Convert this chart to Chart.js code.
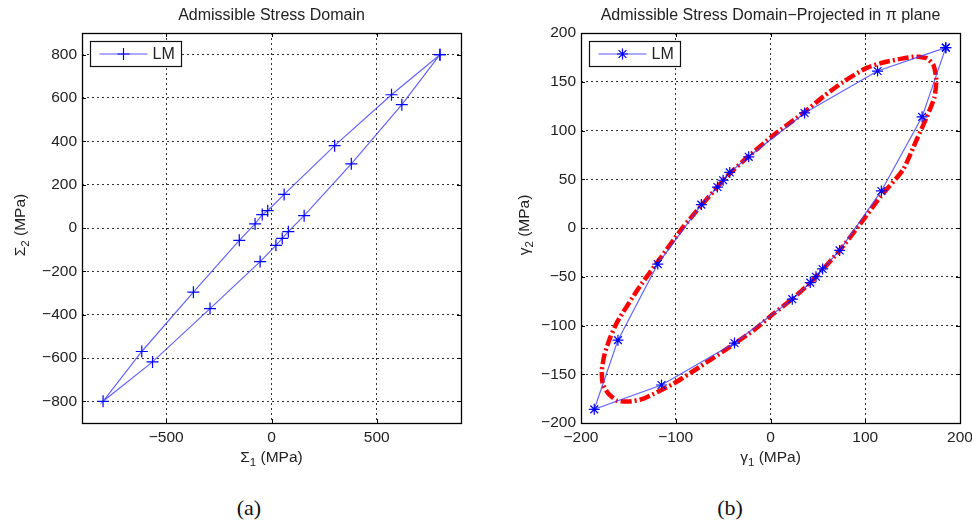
<!DOCTYPE html>
<html>
<head>
<meta charset="utf-8">
<title>Admissible Stress Domain</title>
<script src="https://cdn.jsdelivr.net/npm/chart.js@4.4.1/dist/chart.umd.min.js"></script>
<style>
  body { margin: 0; background: #fff; width: 972px; height: 520px; position: relative; overflow: hidden; }
  canvas { position: absolute; top: 0; }
  #chartA { left: 0; }
  #chartB { left: 486px; }
  .cap { position: absolute; top: 495px; width: 60px; line-height: 26px; text-align: center;
         font-family: "Liberation Serif", "Times New Roman", serif; font-size: 22px; color: #111; }
</style>
</head>
<body>
<canvas id="chartA" width="486" height="475"></canvas>
<canvas id="chartB" width="486" height="475"></canvas>
<div class="cap" style="left:219px">(a)</div>
<div class="cap" style="left:700px">(b)</div>
<script>
// (a) Σ1 - Σ2 plane, LM points, closed loop starting at (800, 800)
const sigma1 = [800, 570, 300, 60, -18, -44, -78, -153, -371, -616, -800,
                -565, -292, -54, 21, 51, 80, 155, 379, 619, 800];
const sigma2 = [800, 615, 380, 155, 80, 62, 19, -57, -296, -570, -800,
                -618, -372, -155, -80, -48, -17, 57, 296, 569, 800];
const sigma1Ticks = [-500, 0, 500];
const sigma2Ticks = [-800, -600, -400, -200, 0, 200, 400, 600, 800];

// (b) projection in the pi plane, LM points
const gamma1 = [185, 113, 36, -23, -43, -50, -56, -73, -119, -161, -186,
                -115, -38, 23, 42, 48, 55, 73, 117, 160, 185];
const gamma2 = [185, 161, 118, 73, 57, 49, 42, 24, -37, -115, -186,
                -161, -118, -73, -56, -50, -42, -23, 38, 114, 185];
// red dash-dot reference curve
const curveG1 = [154, 165, 172, 175, 173, 165, 154, 140, 116, 93, 73, 45, 24, 3, -18, -43, -74, -103,
                 -134, -150, -162, -171, -177, -178, -175, -169, -161, -138, -117, -93, -74, -46, -25, 3,
                 36, 56, 77, 101, 120, 140, 154];
const curveG2 = [176, 174, 167, 152, 134, 114, 90, 60, 32, 2, -23, -53, -72, -88, -105, -122, -142, -160,
                 -175, -178, -177, -170, -160, -146, -129, -112, -95, -60, -32, 0, 22, 53, 72, 95,
                 119, 135, 150, 164, 170, 174, 176];
const gamma1Ticks = [-200, -100, 0, 100, 200];
const gamma2Ticks = [-200, -150, -100, -50, 0, 50, 100, 150, 200];

const FONT = '"Liberation Sans", Arial, Helvetica, sans-serif';
const TEXT = '#222';

function pts(xs, ys) {
    return xs.map((x, i) => ({ x: x, y: ys[i] }));
}

function fmt(v) {
    return String(v).replace('-', '\u2212');
}

function drawMarker(ctx, kind, cx, cy, r) {
    ctx.beginPath();
    ctx.moveTo(cx - r, cy); ctx.lineTo(cx + r, cy);
    ctx.moveTo(cx, cy - r); ctx.lineTo(cx, cy + r);
    if (kind === 'star') {
        const d = r * 0.707;
        ctx.moveTo(cx - d, cy - d); ctx.lineTo(cx + d, cy + d);
        ctx.moveTo(cx - d, cy + d); ctx.lineTo(cx + d, cy - d);
    }
    ctx.stroke();
}

// axis label with a real subscript: [symbol, subscript, rest]
function drawSubLabel(ctx, parts, cx, cy, rot) {
    const big = '15.5px ' + FONT, small = '11.5px ' + FONT;
    ctx.font = big;
    const w0 = ctx.measureText(parts[0]).width;
    const w2 = ctx.measureText(parts[2]).width;
    ctx.font = small;
    const w1 = ctx.measureText(parts[1]).width;
    ctx.save();
    ctx.translate(cx, cy);
    ctx.rotate(rot);
    ctx.fillStyle = TEXT;
    ctx.textBaseline = 'middle';
    ctx.textAlign = 'left';
    let x = -(w0 + w1 + w2) / 2;
    ctx.font = big; ctx.fillText(parts[0], x, 0); x += w0;
    ctx.font = small; ctx.fillText(parts[1], x, 5); x += w1;
    ctx.font = big; ctx.fillText(parts[2], x, 0);
    ctx.restore();
}

// box, inward tick marks, axis labels and the in-plot legend (matlab style)
const framePlugin = {
    id: 'frame',
    afterDraw(chart, args, opts) {
        const ctx = chart.ctx;
        const a = chart.chartArea;
        const xs = chart.scales.x, ys = chart.scales.y;
        ctx.save();
        ctx.strokeStyle = '#000';
        ctx.lineWidth = 1;
        ctx.beginPath();
        xs.ticks.forEach(t => {
            const px = Math.round(xs.getPixelForValue(t.value)) + 0.5;
            ctx.moveTo(px, a.top); ctx.lineTo(px, a.top + 4);
            ctx.moveTo(px, a.bottom); ctx.lineTo(px, a.bottom - 4);
        });
        ys.ticks.forEach(t => {
            const py = Math.round(ys.getPixelForValue(t.value)) + 0.5;
            ctx.moveTo(a.left, py); ctx.lineTo(a.left + 4, py);
            ctx.moveTo(a.right, py); ctx.lineTo(a.right - 4, py);
        });
        ctx.stroke();
        ctx.lineWidth = 1.3;
        ctx.strokeRect(Math.round(a.left) + 0.5, Math.round(a.top) + 0.5,
                       Math.round(a.right - a.left), Math.round(a.bottom - a.top));

        // axis labels
        drawSubLabel(ctx, opts.xLabel, (a.left + a.right) / 2, 458, 0);
        drawSubLabel(ctx, opts.yLabel, opts.yLabelX, (a.top + a.bottom) / 2 - 3, -Math.PI / 2);

        // legend
        const bx = Math.round(a.left) + 8.5, by = Math.round(a.top) + 8.5;
        const bw = 91, bh = 25, my = by + bh / 2;
        ctx.fillStyle = '#fff';
        ctx.fillRect(bx, by, bw, bh);
        ctx.lineWidth = 1.2;
        ctx.strokeStyle = '#111';
        ctx.strokeRect(bx, by, bw, bh);
        ctx.strokeStyle = 'rgba(60,60,255,0.85)';
        ctx.lineWidth = 1.2;
        ctx.beginPath();
        ctx.moveTo(bx + 9, my); ctx.lineTo(bx + 57, my);
        ctx.stroke();
        ctx.strokeStyle = '#0000ff';
        drawMarker(ctx, opts.marker, bx + 33, my, opts.marker === 'star' ? 5.5 : 6);
        ctx.fillStyle = TEXT;
        ctx.font = '16px ' + FONT;
        ctx.textBaseline = 'middle';
        ctx.textAlign = 'left';
        ctx.fillText('LM', bx + 62, my + 0.5);
        ctx.restore();
    }
};

function axis(min, max, tickValues, size, vertical) {
    return {
        type: 'linear',
        position: vertical ? 'left' : 'bottom',
        min: min,
        max: max,
        afterBuildTicks(s) {
            s.ticks = tickValues.map(v => ({ value: v }));
        },
        afterFit(s) {
            if (vertical) s.width = size; else s.height = size;
            s.paddingLeft = 0; s.paddingRight = 0; s.paddingTop = 0; s.paddingBottom = 0;
        },
        ticks: {
            padding: 5,
            color: TEXT,
            font: { family: FONT, size: 15.5 },
            callback: v => fmt(v)
        },
        grid: {
            color: '#333',
            lineWidth: 1,
            drawTicks: false
        },
        border: { display: false, dash: [2, 3] }
    };
}

function makeChart(id, title, datasets, xAxis, yAxis, padRight, frameOpts) {
    return new Chart(document.getElementById(id), {
        type: 'scatter',
        data: { datasets: datasets },
        options: {
            responsive: false,
            animation: false,
            events: [],
            layout: { padding: { left: 0, right: padRight, top: 0, bottom: 0 } },
            plugins: {
                legend: { display: false },
                tooltip: { enabled: false },
                title: {
                    display: true,
                    text: title,
                    fullSize: false,
                    color: TEXT,
                    font: { family: FONT, size: 16, weight: 'normal' },
                    padding: { top: 5.5, bottom: 8.3 }
                },
                frame: frameOpts
            },
            scales: { x: xAxis, y: yAxis }
        },
        plugins: [framePlugin]
    });
}

const lmStyle = {
    showLine: true,
    borderColor: 'rgba(60,60,255,0.8)',
    borderWidth: 1.2,
    pointBorderColor: '#0000ff',
    pointBorderWidth: 1.2,
    order: 0
};

makeChart('chartA', 'Admissible Stress Domain',
    [Object.assign({
        label: 'LM',
        data: pts(sigma1, sigma2),
        pointStyle: 'cross',
        pointRadius: 6
    }, lmStyle)],
    axis(-900, 900, sigma1Ticks, 52, false),
    axis(-900, 900, sigma2Ticks, 82, true),
    25,
    { marker: 'cross', xLabel: ['\u03a3', '1', ' (MPa)'], yLabel: ['\u03a3', '2', ' (MPa)'], yLabelX: 21 });

makeChart('chartB', 'Admissible Stress Domain\u2212Projected in \u03c0 plane',
    [Object.assign({
        label: 'LM',
        data: pts(gamma1, gamma2),
        pointStyle: 'star',
        pointRadius: 5.5
    }, lmStyle),
    {
        label: 'reference',
        data: pts(curveG1, curveG2),
        showLine: true,
        borderColor: '#ff0000',
        borderWidth: 4.5,
        borderDash: [11, 3, 2, 3],
        tension: 0.2,
        pointRadius: 0,
        order: 1
    }],
    axis(-200, 200, gamma1Ticks, 52, false),
    axis(-200, 200, gamma2Ticks, 95, true),
    12,
    { marker: 'star', xLabel: ['\u03b3', '1', ' (MPa)'], yLabel: ['\u03b3', '2', ' (MPa)'], yLabelX: 39 });
</script>
</body>
</html>
